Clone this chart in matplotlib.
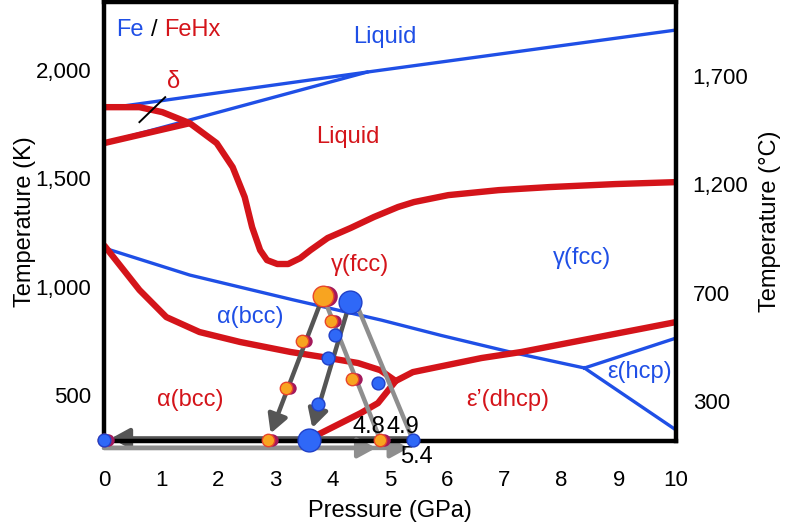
import matplotlib
matplotlib.use('Agg')
import matplotlib.pyplot as plt
from matplotlib.transforms import offset_copy

plt.rcParams['font.family'] = ['Liberation Sans', 'DejaVu Sans']

BLUE = '#1f4fe6'
RED = '#d4141a'
ORANGE = '#f8a420'
CRIMSON = '#a3195b'
MBLUE = '#2f68f7'

# Fe phase boundaries (blue)
fe_liq_p = [0, 4.6, 10]
fe_liq_t = [1822, 1991, 2185]
fe_delta_p = [0, 4.6]
fe_delta_t = [1663, 1991]
fe_ag_p = [0, 1.5, 3.3, 4.85, 5.9, 7.1, 8.4]
fe_ag_t = [1179, 1054, 940, 846, 775, 699, 625]
fe_ge_p = [8.4, 10]
fe_ge_t = [625, 763]
fe_ae_p = [8.4, 10]
fe_ae_t = [625, 339]

# FeHx phase boundaries (red)
h_liq_p = [0, 0.62, 1.02, 1.5, 1.97, 2.25, 2.46, 2.59, 2.73, 2.85, 3.03, 3.22,
           3.43, 3.61, 3.91, 4.31, 4.72, 5.14, 5.42, 6.02, 6.9, 7.78, 8.94, 10]
h_liq_t = [1829, 1829, 1806, 1755, 1663, 1552, 1414, 1275, 1169, 1123, 1105, 1105,
           1132, 1169, 1225, 1271, 1322, 1368, 1391, 1423, 1446, 1460, 1474, 1483]
h_sol_p = [0, 1.5]
h_sol_t = [1663, 1755]
h_ag_p = [0, 0.62, 1.09, 1.67, 2.38, 3.26, 3.84, 4.44, 4.83, 5.1]
h_ag_t = [1192, 985, 860, 791, 745, 699, 675, 648, 615, 565]
h_ge_p = [5.1, 5.4, 6.6, 7.3, 10]
h_ge_t = [565, 606, 671, 699, 837]
h_ae_p = [5.1, 4.79, 4.49, 3.73, 3.58]
h_ae_t = [565, 463, 417, 316, 293]

delta_p = [0.62, 1.07]
delta_t = [1760, 1875]

# experimental points
T_RT = 293
fehx_big = (3.83, 957)
fehx_p = [3.46, 3.18, 3.97, 4.34, 2.87, 4.83, 0]
fehx_t = [749, 532, 842, 574, T_RT, T_RT, T_RT]
fe_big = (4.30, 929)
fe_end = (3.58, T_RT)
fe_p = [4.04, 3.92, 3.74, 4.79, 5.40, 0]
fe_t = [777, 671, 459, 555, T_RT, T_RT]

fig = plt.figure(figsize=(7.86, 5.25), dpi=100)
ax = fig.add_axes([0.1323, 0.16, 0.7277, 0.836])
ax.set_xlim(0, 10)
ax.set_ylim(288, 2314)

blw = 2.4
rlw = 4.6
ax.plot(fe_liq_p, fe_liq_t, color=BLUE, lw=blw)
ax.plot(fe_delta_p, fe_delta_t, color=BLUE, lw=blw)
ax.plot(fe_ag_p, fe_ag_t, color=BLUE, lw=blw)
ax.plot(fe_ge_p, fe_ge_t, color=BLUE, lw=blw)
ax.plot(fe_ae_p, fe_ae_t, color=BLUE, lw=blw)

for p, t in [(h_liq_p, h_liq_t), (h_sol_p, h_sol_t), (h_ag_p, h_ag_t),
             (h_ge_p, h_ge_t), (h_ae_p, h_ae_t)]:
    ax.plot(p, t, color=RED, lw=rlw, solid_joinstyle='round', solid_capstyle='butt')

ax.plot(delta_p, delta_t, color='black', lw=1.4)

DARK = '#555555'
LIGHT = '#8e8e8e'
ah = '-|>,head_length=0.55,head_width=0.3'


def arrow(start, end, color, sb=6, clip=True):
    a = ax.annotate('', xy=end, xytext=start,
                    arrowprops=dict(arrowstyle=ah, color=color, lw=3.2,
                                    mutation_scale=20, shrinkA=0, shrinkB=sb),
                    annotation_clip=False)
    a.arrow_patch.set_clip_on(clip)
    return a


# cooling / decompression paths
ax.annotate('', xy=(fehx_p[5], T_RT), xytext=fehx_big,
            arrowprops=dict(arrowstyle='-', color=LIGHT, lw=3.2, shrinkA=0, shrinkB=0))
ax.annotate('', xy=(fe_p[4], T_RT), xytext=(fe_big[0] + 0.1, fe_big[1]),
            arrowprops=dict(arrowstyle='-', color=LIGHT, lw=3.2, shrinkA=0, shrinkB=0))
arrow(fehx_big, (fehx_p[4], T_RT), DARK, sb=5)
arrow(fe_big, fe_end, DARK, sb=9)

# horizontal arrows along the bottom
arrow((fe_p[4], 300), (0.05, 300), DARK, sb=3, clip=False)
arrow((0, 256), (fehx_p[5], 256), LIGHT, sb=3, clip=False)
arrow((0, 256), (fe_p[4], 256), LIGHT, sb=3, clip=False)

# markers: orange on top of an offset crimson disc
shift = offset_copy(ax.transData, fig=fig, x=4, y=0, units='dots')
ax.scatter(fehx_p, fehx_t, s=80, color=CRIMSON, transform=shift, zorder=5,
           clip_on=False, linewidths=0)
ax.scatter(fehx_p, fehx_t, s=80, color=ORANGE, edgecolor='#e8452a', lw=1,
           zorder=6, clip_on=False)
ax.scatter([fehx_big[0]], [fehx_big[1]], s=220, color=CRIMSON, transform=shift,
           zorder=5, linewidths=0)
ax.scatter([fehx_big[0]], [fehx_big[1]], s=220, color=ORANGE, edgecolor='#e8452a',
           lw=1, zorder=6)
ax.scatter(fe_p, fe_t, s=85, color=MBLUE, edgecolor='#2040c8', lw=1, zorder=7,
           clip_on=False)
ax.scatter([fe_big[0], fe_end[0]], [fe_big[1], fe_end[1]], s=270, color=MBLUE,
           edgecolor='#2040c8', lw=1, zorder=7, clip_on=False)

fs = 17
ax.text(0.22, 2185, 'Fe', color=BLUE, fontsize=fs, va='center')
ax.text(0.82, 2185, '/', color='black', fontsize=fs, va='center')
ax.text(1.06, 2185, 'FeHx', color=RED, fontsize=fs, va='center')
ax.text(4.91, 2152, 'Liquid', color=BLUE, fontsize=fs, ha='center', va='center')
ax.text(1.21, 1945, 'δ', color=RED, fontsize=fs, ha='center', va='center')
ax.text(4.27, 1691, 'Liquid', color=RED, fontsize=fs, ha='center', va='center')
ax.text(4.48, 1100, 'γ(fcc)', color=RED, fontsize=fs, ha='center', va='center')
ax.text(8.36, 1132, 'γ(fcc)', color=BLUE, fontsize=fs, ha='center', va='center')
ax.text(2.55, 860, 'α(bcc)', color=BLUE, fontsize=fs, ha='center', va='center')
ax.text(1.50, 477, 'α(bcc)', color=RED, fontsize=fs, ha='center', va='center')
ax.text(7.06, 477, 'ε’(dhcp)', color=RED, fontsize=fs, ha='center', va='center')
ax.text(9.37, 606, 'ε(hcp)', color=BLUE, fontsize=fs, ha='center', va='center')
ax.text(4.63, 352, '4.8', fontsize=fs, ha='center', va='center', zorder=8)
ax.text(5.23, 352, '4.9', fontsize=fs, ha='center', va='center', zorder=8)
ax.text(5.47, 214, '5.4', fontsize=fs, ha='center', va='center', clip_on=False)

ax.set_xticks(range(0, 11))
ax.set_yticks([500, 1000, 1500, 2000])
ax.set_yticklabels(['500', '1,000', '1,500', '2,000'])
ax.tick_params(axis='x', length=0, pad=21, labelsize=16)
ax.tick_params(axis='y', length=0, pad=9, labelsize=16)
ax.set_xlabel('Pressure (GPa)', fontsize=17, labelpad=6)
ax.set_ylabel('Temperature (K)', fontsize=17, labelpad=0)
for s in ax.spines.values():
    s.set_linewidth(3.2)
    s.set_zorder(4)

ax2 = ax.twinx()
ax2.set_ylim(ax.get_ylim())
ax2.set_yticks([1973, 1473, 973, 473])
ax2.set_yticklabels(['1,700', '1,200', '700', '300'])
ax2.tick_params(axis='y', length=0, pad=12, labelsize=16)
ax2.set_ylabel('Temperature (°C)', fontsize=17, labelpad=8)
for s in ax2.spines.values():
    s.set_visible(False)

fig.savefig('out.png', dpi=100)
